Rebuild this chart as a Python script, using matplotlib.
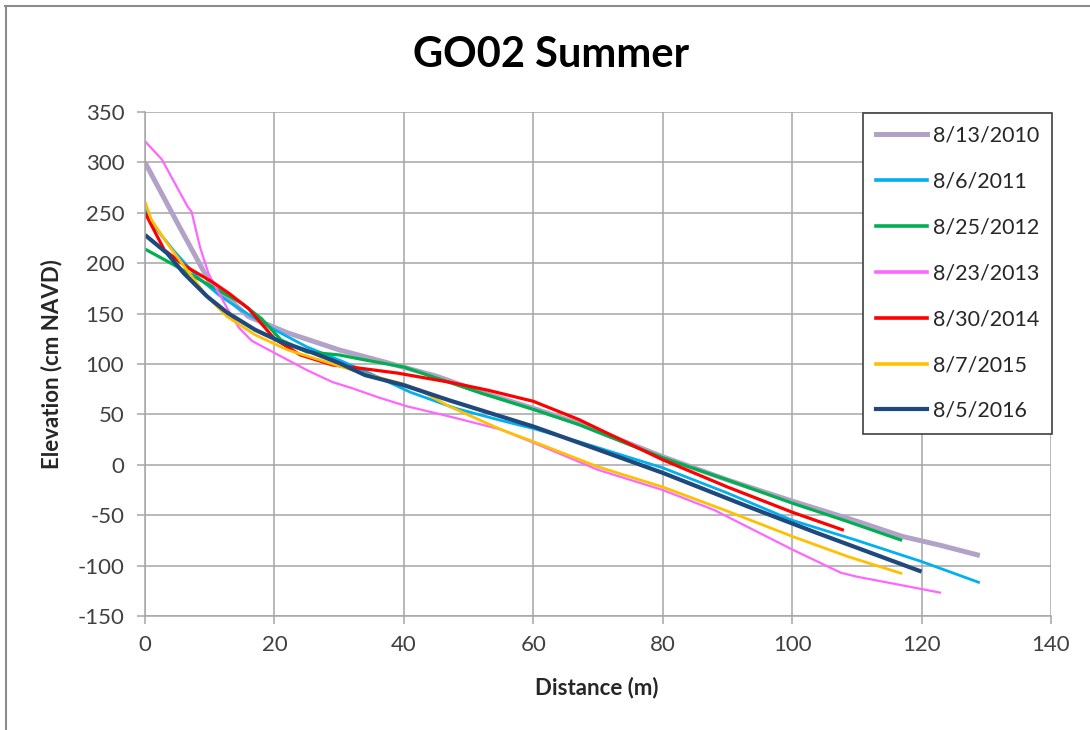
import matplotlib
matplotlib.use("Agg")
import matplotlib.pyplot as plt
from matplotlib.lines import Line2D

plt.rcParams['font.family'] = ['Lato', 'DejaVu Sans']
plt.rcParams['axes.unicode_minus'] = False

# Beach profile surveys, GO02, summer
x_2010 = [0, 5, 10, 16, 22, 30, 37, 45, 52, 60, 67, 80, 90, 100, 110, 117, 123, 129]
y_2010 = [300, 240, 181, 147, 131, 114, 102, 88, 72, 56, 41, 8, -15, -36, -56, -71, -80, -90]

x_2011 = [0, 2, 4.5, 8, 11.5, 15, 20, 25, 30, 35, 41, 48, 55, 60, 67, 80, 90, 100, 110, 120, 129]
y_2011 = [253, 232, 212, 187, 168, 153, 134, 117, 104, 90, 72, 56, 44, 36, 23, -3, -28, -55, -75, -96, -117]

x_2012 = [0, 4, 10, 15, 18, 21, 25, 30, 34, 40, 46, 52, 60, 67, 80, 90, 100, 108, 117]
y_2012 = [214, 200, 178, 160, 145, 124, 112, 109, 104, 97, 84, 71, 55, 40, 7, -15, -38, -55, -75]

x_2013 = [0, 2.6, 4.3, 6.6, 7.2, 8.5, 9.8, 11.1, 13, 14.5, 16.5, 20, 25, 29, 32, 36, 40.5, 47, 55, 60,
          70, 80, 88, 100, 107.5, 110, 119, 123]
y_2013 = [321, 303, 283, 256, 251, 216, 190, 174, 152, 136, 123, 111, 94, 82, 76, 67, 58, 48, 35, 22,
          -5, -25, -45, -84, -107, -111, -122, -127]

x_2014 = [0, 3, 6.5, 10.5, 13, 16, 20, 24, 29, 33, 39, 47, 53, 60, 67, 80, 90, 100, 108]
y_2014 = [250, 213, 196, 181, 170, 155, 125, 109, 99, 96, 91, 82, 74, 63, 45, 5, -22, -47, -65]

x_2015 = [0, 1, 3.4, 6.5, 9.6, 12.7, 17, 22, 27, 33, 40, 42.5, 47, 55, 60, 70, 80, 90, 100, 108.6, 117]
y_2015 = [261, 243, 220, 193, 167, 147, 129, 114, 104, 92, 80, 74, 58, 35, 23, -2, -22, -46, -71, -91, -108]

x_2016 = [0, 3.4, 6, 9.6, 12.7, 17, 21, 26, 30, 34, 40, 47, 53, 60, 67, 80, 93, 104, 120]
y_2016 = [228, 210, 190, 167, 151, 134, 122, 111, 101, 89, 79, 64, 52, 38, 22, -8, -41, -68, -106]

labels = ['8/13/2010', '8/6/2011', '8/25/2012', '8/23/2013', '8/30/2014', '8/7/2015', '8/5/2016']
series = [(x_2010, y_2010), (x_2011, y_2011), (x_2012, y_2012), (x_2013, y_2013),
          (x_2014, y_2014), (x_2015, y_2015), (x_2016, y_2016)]
colors = ['#B3A2C7', '#00B0F0', '#00B050', '#FF66FF', '#FF0000', '#FFC000', '#1F497D']
widths = [3.6, 2.0, 2.3, 1.6, 2.3, 2.0, 3.0]

x_ticks = [0, 20, 40, 60, 80, 100, 120, 140]
y_ticks = [-150, -100, -50, 0, 50, 100, 150, 200, 250, 300, 350]

fig = plt.figure(figsize=(10.9, 7.3), dpi=100)
ax = fig.add_axes([145 / 1090, 1 - 616 / 730, (1051 - 145) / 1090, (616 - 112) / 730])

grid_c = '#A6A6A6'
for (xs, ys), c, w, lab in zip(series, colors, widths, labels):
    ax.plot(xs, ys, color=c, lw=w, solid_joinstyle='round', solid_capstyle='butt', label=lab)

ax.set_xlim(0, 140)
ax.set_ylim(-150, 350)
ax.set_xticks(x_ticks)
ax.set_yticks(y_ticks)
ax.grid(True, color=grid_c, lw=1.1)
ax.set_axisbelow(True)
for s in ['top', 'right']:
    ax.spines[s].set_visible(False)
for s in ['left', 'bottom']:
    ax.spines[s].set_color(grid_c)
    ax.spines[s].set_linewidth(1.1)
ax.tick_params(direction='out', length=6, width=1.1, color=grid_c,
               labelsize=16, labelcolor='#404040')
ax.tick_params(axis='y', pad=9)
ax.tick_params(axis='x', pad=8)

fig.text(597 / 1090, 1 - 688 / 730, 'Distance (m)', ha='center', va='center',
         fontsize=16, fontweight='bold', color='#262626')
fig.text(52 / 1090, 1 - 364 / 730, 'Elevation (cm NAVD)', ha='center', va='center',
         rotation=90, fontsize=16, fontweight='bold', color='#262626')
fig.text(551 / 1090, 1 - 55 / 730, 'GO02 Summer', ha='center', va='center',
         fontsize=30, fontweight='bold', color='#000000')

handles = [Line2D([0], [0], color=c, lw=max(w, 2.6) if i in (0, 6) else 2.6)
           for i, (c, w) in enumerate(zip(colors, widths))]
leg = ax.legend(handles, labels, loc='upper right',
                bbox_to_anchor=(1052 / 1090, 1 - 113 / 730), bbox_transform=fig.transFigure,
                borderaxespad=0, fontsize=15.5, frameon=True, fancybox=False,
                handlelength=2.4, handletextpad=0.25, labelspacing=1.2,
                borderpad=0.6, framealpha=1)
leg.get_frame().set_edgecolor('#404040')
leg.get_frame().set_linewidth(1.2)
for t in leg.get_texts():
    t.set_color('#262626')

# outer chart frame (left and top edges)
fig.add_artist(Line2D([5.5 / 1090, 5.5 / 1090], [0, 1 - 6 / 730], color='#8C8C8C', lw=1.5,
                      transform=fig.transFigure))
fig.add_artist(Line2D([5 / 1090, 1], [1 - 6 / 730, 1 - 6 / 730], color='#8C8C8C', lw=1.5,
                      transform=fig.transFigure))

fig.savefig('out.png', dpi=100)
